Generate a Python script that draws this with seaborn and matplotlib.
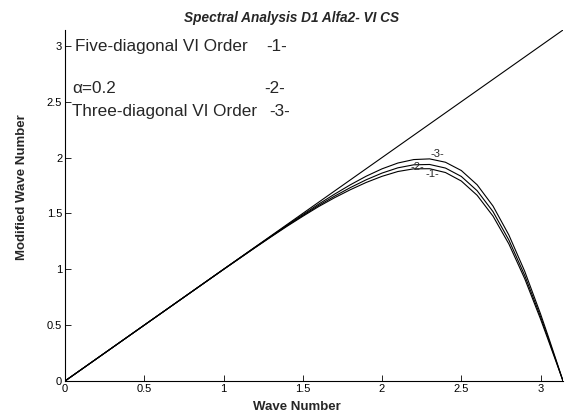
import numpy as np
import pandas as pd
import matplotlib
matplotlib.use("Agg")
import matplotlib.pyplot as plt
import seaborn as sns

# Wave numbers and modified wave numbers of the three schemes
wave = [0.0, 0.5, 1.0, 1.2, 1.3, 1.4, 1.5, 1.6, 1.7, 1.8, 1.9, 2.0, 2.1, 2.2,
        2.3, 2.4, 2.5, 2.6, 2.7, 2.8, 2.9, 3.0, 3.05, 3.1, 3.1416]
five_diag = [0.0, 0.50, 0.998, 1.194, 1.290, 1.384, 1.474, 1.561, 1.640, 1.712,
             1.777, 1.832, 1.875, 1.899, 1.900, 1.866, 1.790, 1.662, 1.476,
             1.227, 0.916, 0.554, 0.360, 0.164, 0.0]
alpha_02 = [0.0, 0.50, 0.999, 1.196, 1.293, 1.389, 1.481, 1.571, 1.654, 1.731,
            1.801, 1.861, 1.908, 1.935, 1.938, 1.906, 1.831, 1.703, 1.516,
            1.262, 0.945, 0.575, 0.375, 0.172, 0.0]
three_diag = [0.0, 0.50, 1.000, 1.198, 1.296, 1.394, 1.489, 1.583, 1.672, 1.756,
              1.833, 1.899, 1.951, 1.982, 1.988, 1.958, 1.884, 1.756, 1.566,
              1.307, 0.982, 0.600, 0.393, 0.180, 0.0]
exact_x = [0.0, 3.1416]
exact_y = [0.0, 3.1416]

x_ticks = [0, 0.5, 1, 1.5, 2, 2.5, 3]
y_ticks = [0, 0.5, 1, 1.5, 2, 2.5, 3]

sns.set_style("ticks", {"xtick.direction": "in", "ytick.direction": "in"})
plt.rcParams["font.family"] = ["Liberation Sans", "DejaVu Sans"]

fig = plt.figure(figsize=(5.68, 4.17), dpi=100)
ax = fig.add_axes([65 / 568, 36 / 417, 498 / 568, 351 / 417])

line_kw = dict(color="black", linewidth=0.8, sort=False, estimator=None, ax=ax)
sns.lineplot(x=exact_x, y=exact_y, **line_kw)
for series in (five_diag, alpha_02, three_diag):
    sns.lineplot(x=wave, y=series, **line_kw)

ax.set_xlim(0, np.pi)
ax.set_ylim(0, np.pi)
ax.set_xticks(x_ticks)
ax.set_yticks(y_ticks)
ax.set_xticklabels([f"{t:g}" for t in x_ticks])
ax.set_yticklabels([f"{t:g}" for t in y_ticks])
ax.tick_params(axis="both", labelsize=8, length=4, width=0.6, pad=2,
               colors="black")
sns.despine(ax=ax)
for side in ("left", "bottom"):
    ax.spines[side].set_linewidth(0.8)
    ax.spines[side].set_color("black")

ax.set_xlabel("Wave Number", fontsize=9.5, fontweight="bold")
ax.set_ylabel("Modified Wave Number", fontsize=9.5, fontweight="bold")
ax.xaxis.set_label_coords(0.466, -0.057)
ax.yaxis.set_label_coords(-0.074, 0.553)

ax.text(0.454, 1.034, "Spectral Analysis D1 Alfa2- VI CS", transform=ax.transAxes,
        ha="center", va="center", fontsize=9.8, fontweight="bold",
        fontstyle="italic")

# Legend-style notes
note_kw = dict(fontsize=12.3, va="center")
ax.text(0.063, 2.99, "Five-diagonal VI Order", ha="left", **note_kw)
ax.text(1.40, 2.99, "-1-", ha="right", **note_kw)
ax.text(0.044, 2.62, "α=0.2", ha="left", **note_kw)
ax.text(1.385, 2.62, "-2-", ha="right", **note_kw)
ax.text(0.044, 2.41, "Three-diagonal VI Order", ha="left", **note_kw)
ax.text(1.42, 2.41, "-3-", ha="right", **note_kw)

# Curve tags
tag_kw = dict(fontsize=8, ha="center", va="center")
ax.text(2.35, 2.03, "-3-", **tag_kw)
ax.text(2.225, 1.915, "-2-", **tag_kw)
ax.text(2.32, 1.855, "-1-", **tag_kw)

fig.savefig("out.png", dpi=100)
